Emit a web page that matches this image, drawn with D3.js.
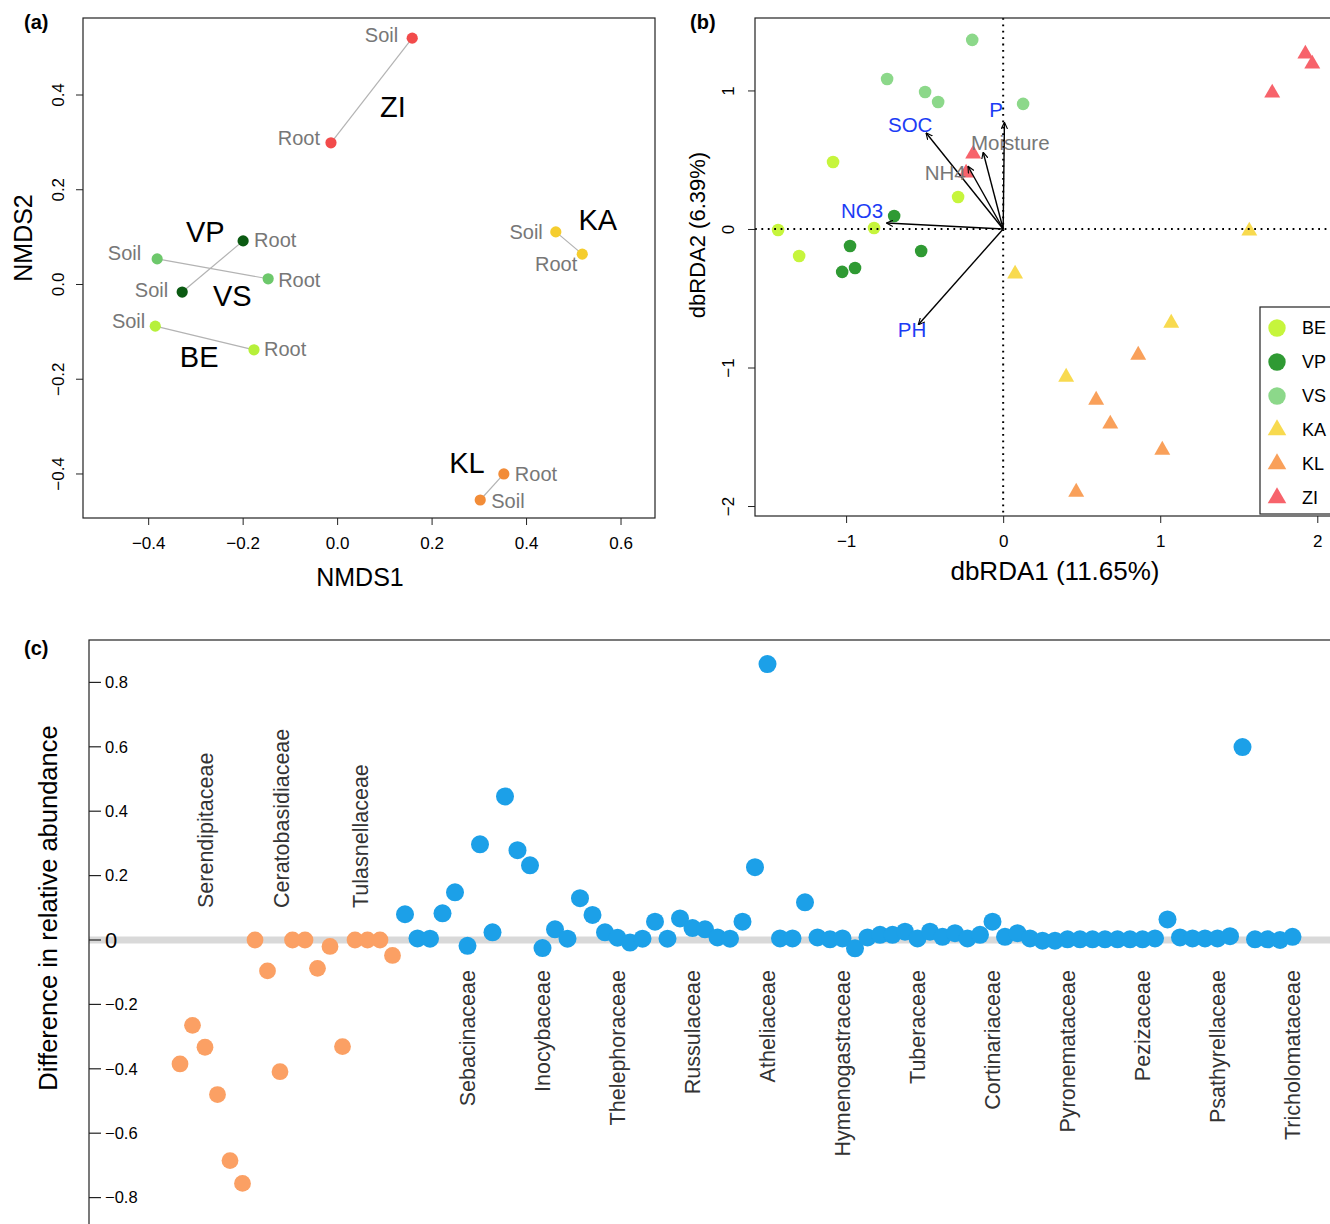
<!DOCTYPE html>
<meta charset="utf-8">
<html>
<head>
<style>
    html, body {
        margin: 0;
        padding: 0;
        background: #fff;
    }
    svg {
        display: block;
        font-family: "Liberation Sans", Arial, Helvetica, sans-serif;
    }
    .frame {
        fill: none;
        stroke: #222;
        stroke-width: 1.2;
    }
    .axis text {
        fill: #000;
    }
    .axis line {
        stroke: #222;
    }
</style>
</head>
<body>
<svg width="1330" height="1224"></svg>
<script src="https://cdn.jsdelivr.net/npm/d3@7"></script>
<script>
// ---- panel (a): NMDS of site x compartment ----
var nmdsSite = ["ZI", "ZI", "VP", "VP", "VS", "VS", "BE", "BE", "KA", "KA", "KL", "KL"];
var nmdsType = ["Soil", "Root", "Root", "Soil", "Soil", "Root", "Soil", "Root", "Soil", "Root", "Root", "Soil"];
var nmds1 = [0.159, -0.013, -0.199, -0.328, -0.381, -0.146, -0.385, -0.176, 0.463, 0.519, 0.353, 0.303];
var nmds2 = [0.519, 0.298, 0.091, -0.017, 0.053, 0.011, -0.089, -0.139, 0.110, 0.063, -0.401, -0.456];
var nmdsTicksX = [-0.4, -0.2, 0, 0.2, 0.4, 0.6];
var nmdsTicksY = [-0.4, -0.2, 0, 0.2, 0.4];

var siteNames = ["ZI", "VP", "VS", "BE", "KA", "KL"];
var siteLabelX = [0.118, -0.279, -0.222, -0.292, 0.552, 0.275];
var siteLabelY = [0.374, 0.110, -0.025, -0.154, 0.135, -0.378];

// ---- panel (b): dbRDA ----
var rdaGroup = ["VS", "VS", "VS", "VS", "VS",
                "BE", "BE", "BE", "BE", "BE",
                "VP", "VP", "VP", "VP", "VP",
                "ZI", "ZI", "ZI", "ZI", "ZI",
                "KA", "KA", "KA", "KA",
                "KL", "KL", "KL", "KL", "KL"];
var rda1 = [-0.197, -0.739, -0.497, -0.414, 0.127,
            -1.083, -0.287, -1.433, -0.822, -1.299,
            -0.694, -0.975, -1.025, -0.943, -0.522,
            1.924, 1.968, 1.713, -0.191, -0.236,
            1.567, 0.076, 1.070, 0.401,
            0.860, 0.592, 0.682, 1.013, 0.465];
var rda2 = [1.365, 1.083, 0.989, 0.917, 0.903,
            0.484, 0.231, -0.007, 0.007, -0.195,
            0.094, -0.123, -0.310, -0.282, -0.159,
            1.264, 1.191, 0.982, 0.542, 0.404,
            -0.014, -0.325, -0.679, -1.069,
            -0.910, -1.235, -1.408, -1.596, -1.899];
var envNames = ["P", "SOC", "Moisture", "NH4", "NO3", "PH"];
var envX = [0.008, -0.490, -0.127, -0.223, -0.741, -0.539];
var envY = [0.768, 0.693, 0.552, 0.451, 0.043, -0.690];
var envSignificant = [true, true, false, false, true, true];
var envLabelX = [-0.045, -0.592, 0.045, -0.369, -0.898, -0.580];
var envLabelY = [0.859, 0.751, 0.621, 0.404, 0.130, -0.729];
var rdaTicksX = [-1, 0, 1, 2];
var rdaTicksY = [-2, -1, 0, 1];
var legendGroups = ["BE", "VP", "VS", "KA", "KL", "ZI"];

// ---- panel (c): difference in relative abundance per OTU ----
var diffOrchid = [-0.385, -0.265, -0.333, -0.480, -0.685, -0.756, 0.000, -0.096, -0.409,
                  0.000, 0.000, -0.088, -0.020, -0.331, 0.000, 0.000, 0.000, -0.048];
var diffEcto = [0.080, 0.005, 0.004, 0.083, 0.148, -0.018, 0.297, 0.024, 0.446, 0.279,
                0.232, -0.025, 0.033, 0.004, 0.130, 0.078, 0.024, 0.007, -0.008, 0.004,
                0.057, 0.004, 0.067, 0.037, 0.033, 0.008, 0.004, 0.057, 0.226, 0.857,
                0.005, 0.005, 0.117, 0.008, 0.002, 0.005, -0.026, 0.008, 0.016, 0.016,
                0.026, 0.005, 0.026, 0.010, 0.021, 0.005, 0.016, 0.057, 0.010, 0.021,
                0.005, -0.002, -0.002, 0.002, 0.002, 0.002, 0.002, 0.002, 0.002, 0.002,
                0.005, 0.064, 0.008, 0.005, 0.005, 0.005, 0.012, 0.599, 0.002, 0.002,
                0.000, 0.010];
var familiesAbove = ["Serendipitaceae", "Ceratobasidiaceae", "Tulasnellaceae"];
var familiesAboveAt = [2, 8.1, 14.4];
var familiesBelow = ["Sebacinaceae", "Inocybaceae", "Thelephoraceae", "Russulaceae", "Atheliaceae",
                     "Hymenogastraceae", "Tuberaceae", "Cortinariaceae", "Pyronemataceae",
                     "Pezizaceae", "Psathyrellaceae", "Tricholomataceae"];
var familiesBelowAt = [23, 29, 35, 41, 47, 53, 59, 65, 71, 77, 83, 89];
var diffTicks = [-0.8, -0.6, -0.4, -0.2, 0, 0.2, 0.4, 0.6, 0.8];

// colours
var nmdsColor = {ZI: "#f24b4b", VP: "#0b5a12", VS: "#6dc86b", BE: "#b6f03a", KA: "#f5cd2e", KL: "#f28c38"};
var rdaColor = {BE: "#c6f53c", VP: "#2f9a33", VS: "#8cd88a", KA: "#f8da4f", KL: "#f9a05a", ZI: "#f7636b"};
var rdaShape = {BE: "circle", VP: "circle", VS: "circle", KA: "tri", KL: "tri", ZI: "tri"};

var svg = d3.select("svg");
var fmt1 = d3.format(".1f");

function styleAxis(g) {
    g.attr("font-size", 17).attr("font-family", null).classed("axis", true);
    g.select(".domain").remove();
}

function rotateLabels(g, d) {
    g.selectAll(".tick text")
        .attr("transform", "rotate(-90)")
        .attr("x", 0)
        .attr("y", -d)
        .attr("dy", 0)
        .attr("text-anchor", "middle");
}

function panelTag(x, y, t) {
    svg.append("text")
        .attr("x", x).attr("y", y)
        .attr("font-size", 20).attr("font-weight", "bold")
        .text(t);
}

// ================= (a) =================
var xA = d3.scaleLinear().domain([-0.538, 0.673]).range([83, 655]);
var yA = d3.scaleLinear().domain([-0.494, 0.5615]).range([518, 18]);
var gA = svg.append("g");

gA.append("g")
    .attr("transform", "translate(0,518)")
    .call(d3.axisBottom(xA).tickValues(nmdsTicksX).tickFormat(fmt1).tickSize(7).tickPadding(12))
    .call(styleAxis);
gA.append("g")
    .attr("transform", "translate(83,0)")
    .call(d3.axisLeft(yA).tickValues(nmdsTicksY).tickFormat(fmt1).tickSize(7))
    .call(styleAxis)
    .call(rotateLabels, 19);

gA.append("rect").attr("class", "frame")
    .attr("x", 83).attr("y", 18).attr("width", 655 - 83).attr("height", 518 - 18);

// link soil and root of each site
siteNames.forEach(function (s) {
    var idx = [];
    nmdsSite.forEach(function (d, i) { if (d === s) idx.push(i); });
    gA.append("line")
        .attr("x1", xA(nmds1[idx[0]])).attr("y1", yA(nmds2[idx[0]]))
        .attr("x2", xA(nmds1[idx[1]])).attr("y2", yA(nmds2[idx[1]]))
        .attr("stroke", "#b3b3b3").attr("stroke-width", 1.2);
});

var nmdsIdx = d3.range(nmds1.length);
gA.selectAll("circle.pt")
    .data(nmdsIdx)
    .enter()
        .append("circle")
        .attr("class", "pt")
        .attr("cx", function (i) { return xA(nmds1[i]); })
        .attr("cy", function (i) { return yA(nmds2[i]); })
        .attr("r", 5.6)
        .attr("fill", function (i) { return nmdsColor[nmdsSite[i]]; });

// where the Soil / Root words sit next to their dot (pixel nudges)
var typeNudge = [[-14, -3, "end"], [-11, -5, "end"], [11, -1, "start"], [-14, -2, "end"],
                 [-16, -6, "end"], [10, 1, "start"], [-10, -5, "end"], [10, -1, "start"],
                 [-13, 0, "end"], [-5, 10, "end"], [11, 0, "start"], [11, 1, "start"]];
gA.selectAll("text.type")
    .data(nmdsIdx)
    .enter()
        .append("text")
        .attr("class", "type")
        .attr("x", function (i) { return xA(nmds1[i]) + typeNudge[i][0]; })
        .attr("y", function (i) { return yA(nmds2[i]) + typeNudge[i][1]; })
        .attr("dy", "0.35em")
        .attr("text-anchor", function (i) { return typeNudge[i][2]; })
        .attr("font-size", 20)
        .attr("fill", "#777")
        .text(function (i) { return nmdsType[i]; });

gA.selectAll("text.site")
    .data(siteNames)
    .enter()
        .append("text")
        .attr("class", "site")
        .attr("x", function (d, i) { return xA(siteLabelX[i]); })
        .attr("y", function (d, i) { return yA(siteLabelY[i]); })
        .attr("dy", "0.35em")
        .attr("text-anchor", "middle")
        .attr("font-size", 29)
        .text(function (d) { return d; });

gA.append("text")
    .attr("x", 360).attr("y", 586)
    .attr("text-anchor", "middle").attr("font-size", 25)
    .text("NMDS1");
gA.append("text")
    .attr("transform", "translate(32,238) rotate(-90)")
    .attr("text-anchor", "middle").attr("font-size", 25)
    .text("NMDS2");
panelTag(24, 29, "(a)");

// ================= (b) =================
var xB = d3.scaleLinear().domain([-1.58, 2.1]).range([755, 1333]);
var yB = d3.scaleLinear().domain([-2.072, 1.523]).range([516, 18]);
var gB = svg.append("g");

gB.append("g")
    .attr("transform", "translate(0,516)")
    .call(d3.axisBottom(xB).tickValues(rdaTicksX).tickFormat(d3.format("d")).tickSize(7).tickPadding(12))
    .call(styleAxis);
gB.append("g")
    .attr("transform", "translate(755,0)")
    .call(d3.axisLeft(yB).tickValues(rdaTicksY).tickFormat(d3.format("d")).tickSize(7))
    .call(styleAxis)
    .call(rotateLabels, 21);

var rdaIdx = d3.range(rda1.length);
var tri = d3.symbol().type(d3.symbolTriangle).size(110);
var triBig = d3.symbol().type(d3.symbolTriangle).size(150);
var dot = d3.symbol().type(d3.symbolCircle).size(Math.PI * 6.3 * 6.3);
var dotBig = d3.symbol().type(d3.symbolCircle).size(Math.PI * 8.7 * 8.7);

gB.selectAll(".rpt")
    .data(rdaIdx)
    .enter()
        .append("path")
        .attr("class", "rpt")
        .attr("transform", function (i) { return "translate(" + xB(rda1[i]) + "," + yB(rda2[i]) + ")"; })
        .attr("d", function (i) { return rdaShape[rdaGroup[i]] === "tri" ? tri() : dot(); })
        .attr("fill", function (i) { return rdaColor[rdaGroup[i]]; });

// dotted zero lines
gB.append("line")
    .attr("x1", xB(0)).attr("x2", xB(0)).attr("y1", 18).attr("y2", 516)
    .attr("stroke", "#000").attr("stroke-width", 2).attr("stroke-dasharray", "1.8,4.6");
gB.append("line")
    .attr("x1", 755).attr("x2", 1333).attr("y1", yB(0)).attr("y2", yB(0))
    .attr("stroke", "#000").attr("stroke-width", 2).attr("stroke-dasharray", "1.8,4.6");

// arrows for environmental vectors
svg.append("defs").append("marker")
    .attr("id", "head")
    .attr("viewBox", "0 0 10 10")
    .attr("refX", 9).attr("refY", 5)
    .attr("markerWidth", 7).attr("markerHeight", 7)
    .attr("markerUnits", "userSpaceOnUse")
    .attr("orient", "auto")
    .append("path")
        .attr("d", "M0,0.5 L9.5,5 L0,9.5")
        .attr("fill", "none").attr("stroke", "#000").attr("stroke-width", 1.6);

gB.selectAll(".env")
    .data(envNames)
    .enter()
        .append("line")
        .attr("class", "env")
        .attr("x1", xB(0)).attr("y1", yB(0))
        .attr("x2", function (d, i) { return xB(envX[i]); })
        .attr("y2", function (d, i) { return yB(envY[i]); })
        .attr("stroke", "#000").attr("stroke-width", 1.4)
        .attr("marker-end", "url(#head)");

gB.selectAll(".envlab")
    .data(envNames)
    .enter()
        .append("text")
        .attr("class", "envlab")
        .attr("x", function (d, i) { return xB(envLabelX[i]); })
        .attr("y", function (d, i) { return yB(envLabelY[i]); })
        .attr("dy", "0.35em")
        .attr("text-anchor", "middle")
        .attr("font-size", 20.5)
        .attr("fill", function (d, i) { return envSignificant[i] ? "#1c3cf5" : "#777"; })
        .text(function (d) { return d; });

gB.append("rect").attr("class", "frame")
    .attr("x", 755).attr("y", 18).attr("width", 1333 - 755).attr("height", 516 - 18);

// legend
var leg = gB.append("g").attr("transform", "translate(1260,307)");
leg.append("rect")
    .attr("width", 90).attr("height", 207)
    .attr("fill", "#fff").attr("stroke", "#222").attr("stroke-width", 1.2);
var legRow = leg.selectAll(".lr")
    .data(legendGroups)
    .enter()
        .append("g")
        .attr("class", "lr")
        .attr("transform", function (d, i) { return "translate(0," + (21 + i * 34) + ")"; });
legRow.append("path")
    .attr("transform", "translate(17,0)")
    .attr("d", function (d) { return rdaShape[d] === "tri" ? triBig() : dotBig(); })
    .attr("fill", function (d) { return rdaColor[d]; });
legRow.append("text")
    .attr("x", 42).attr("dy", "0.35em")
    .attr("font-size", 18)
    .text(function (d) { return d; });

gB.append("text")
    .attr("x", 1055).attr("y", 580)
    .attr("text-anchor", "middle").attr("font-size", 26)
    .text("dbRDA1 (11.65%)");
gB.append("text")
    .attr("transform", "translate(705,235) rotate(-90)")
    .attr("text-anchor", "middle").attr("font-size", 22)
    .text("dbRDA2 (6.39%)");
panelTag(690, 29, "(b)");

// ================= (c) =================
var xC = d3.scaleLinear().domain([0, 89]).range([180, 1292.5]);
var yC = d3.scaleLinear().domain([-0.8, 0.8]).range([1197.6, 682.4]);
var gC = svg.append("g");

gC.append("line")
    .attr("x1", 89).attr("x2", 1340).attr("y1", yC(0)).attr("y2", yC(0))
    .attr("stroke", "#d9d9d9").attr("stroke-width", 7);

gC.selectAll(".ytick")
    .data(diffTicks)
    .enter()
        .append("line")
        .attr("class", "ytick")
        .attr("x1", 89).attr("x2", 101)
        .attr("y1", function (d) { return yC(d); })
        .attr("y2", function (d) { return yC(d); })
        .attr("stroke", "#222").attr("stroke-width", 1.2);
gC.selectAll(".ylab")
    .data(diffTicks)
    .enter()
        .append("text")
        .attr("class", "ylab")
        .attr("x", 105)
        .attr("y", function (d) { return yC(d); })
        .attr("dy", "0.35em")
        .attr("font-size", function (d) { return d === 0 ? 22 : 16.5; })
        .text(function (d) { return d === 0 ? "0" : fmt1(d); });

gC.append("rect").attr("class", "frame")
    .attr("x", 89).attr("y", 640).attr("width", 1400).attr("height", 800);

gC.selectAll(".orchid")
    .data(diffOrchid)
    .enter()
        .append("circle")
        .attr("class", "orchid")
        .attr("cx", function (d, i) { return xC(i); })
        .attr("cy", function (d) { return yC(d); })
        .attr("r", 8.4)
        .attr("fill", "#fba064");

gC.selectAll(".ecto")
    .data(diffEcto)
    .enter()
        .append("circle")
        .attr("class", "ecto")
        .attr("cx", function (d, i) { return xC(i + diffOrchid.length); })
        .attr("cy", function (d) { return yC(d); })
        .attr("r", 9)
        .attr("fill", "#1ca0e8");

gC.selectAll(".famA")
    .data(familiesAbove)
    .enter()
        .append("text")
        .attr("class", "famA")
        .attr("transform", function (d, i) { return "translate(" + xC(familiesAboveAt[i]) + ",908) rotate(-90)"; })
        .attr("dy", "0.35em")
        .attr("text-anchor", "start")
        .attr("font-size", 21.5)
        .attr("fill", "#333")
        .text(function (d) { return d; });

gC.selectAll(".famB")
    .data(familiesBelow)
    .enter()
        .append("text")
        .attr("class", "famB")
        .attr("transform", function (d, i) { return "translate(" + xC(familiesBelowAt[i]) + ",970) rotate(-90)"; })
        .attr("dy", "0.35em")
        .attr("text-anchor", "end")
        .attr("font-size", 21.5)
        .attr("fill", "#333")
        .text(function (d) { return d; });

gC.append("text")
    .attr("transform", "translate(57,908) rotate(-90)")
    .attr("text-anchor", "middle").attr("font-size", 25.5)
    .text("Difference in relative abundance");
panelTag(24, 655, "(c)");
</script>
</body>
</html>
